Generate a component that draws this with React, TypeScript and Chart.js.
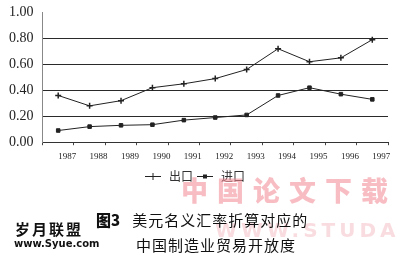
import React, { useEffect, useRef } from "react";
import { Chart, registerables } from "chart.js";

Chart.register(...registerables);

const years = ["1987", "1988", "1989", "1990", "1991", "1992", "1993", "1994", "1995", "1996", "1997"];
const exportValues = [0.36, 0.28, 0.32, 0.42, 0.45, 0.49, 0.56, 0.72, 0.62, 0.65, 0.79];
const importValues = [0.09, 0.12, 0.13, 0.135, 0.17, 0.19, 0.21, 0.36, 0.42, 0.37, 0.33];
const seriesNames = ["出口", "进口"];
const yTicks = [0, 0.2, 0.4, 0.6, 0.8, 1.0];

function legendIcon(style: "cross" | "rect"): HTMLCanvasElement {
  const c = document.createElement("canvas");
  c.width = 18;
  c.height = 10;
  const ctx = c.getContext("2d")!;
  ctx.strokeStyle = "#222";
  ctx.fillStyle = "#222";
  ctx.lineWidth = 1;
  ctx.beginPath();
  ctx.moveTo(1, 5.5);
  ctx.lineTo(17, 5.5);
  ctx.stroke();
  if (style === "cross") {
    ctx.beginPath();
    ctx.moveTo(9, 2);
    ctx.lineTo(9, 9);
    ctx.stroke();
  } else {
    ctx.fillRect(7, 3.5, 4, 4);
  }
  return c;
}

export default function App() {
  const ref = useRef<HTMLCanvasElement | null>(null);

  useEffect(() => {
    if (!ref.current) return;
    const icons = [legendIcon("cross"), legendIcon("rect")];
    const chart = new Chart(ref.current, {
      type: "line",
      data: {
        labels: years,
        datasets: [
          {
            label: seriesNames[0],
            data: exportValues,
            borderColor: "#222",
            backgroundColor: "#222",
            borderWidth: 1,
            pointStyle: "cross",
            pointRadius: 3,
            pointBorderWidth: 1.5,
            tension: 0,
          },
          {
            label: seriesNames[1],
            data: importValues,
            borderColor: "#222",
            backgroundColor: "#222",
            borderWidth: 1,
            pointStyle: "rect",
            pointRadius: 2.5,
            tension: 0,
          },
        ],
      },
      options: {
        animation: false,
        responsive: false,
        maintainAspectRatio: false,
        layout: { padding: { left: 0, right: 12, top: 2, bottom: 0 } },
        plugins: {
          tooltip: { enabled: false },
          legend: {
            position: "bottom",
            labels: {
              usePointStyle: true,
              pointStyleWidth: 20,
              color: "#333",
              font: { family: "Noto Sans CJK SC", size: 12 },
              padding: 2,
              generateLabels: (ch) => {
                const items = Chart.defaults.plugins.legend.labels.generateLabels(ch);
                items.forEach((it, i) => {
                  it.pointStyle = icons[i] as any;
                });
                return items;
              },
            },
          },
        },
        scales: {
          x: {
            type: "category",
            offset: true,
            grid: {
              offset: true,
              drawOnChartArea: false,
              drawTicks: true,
              tickLength: 3,
              color: "#444",
            },
            border: { display: true, color: "#333", width: 1 },
            ticks: {
              color: "#222",
              font: { family: "Liberation Serif", size: 9 },
              labelOffset: 9,
              padding: 6,
              maxRotation: 0,
              autoSkip: false,
            },
          },
          y: {
            min: 0,
            max: 1,
            afterBuildTicks: (axis) => {
              axis.ticks = yTicks.map((v) => ({ value: v }));
            },
            grid: {
              drawTicks: false,
              color: (ctx) => (ctx.tick && (ctx.tick.value === 0 || ctx.tick.value === 1) ? "rgba(0,0,0,0)" : "#2a2a2a"),
              lineWidth: 1,
            },
            border: { display: true, color: "#888", width: 1 },
            ticks: {
              color: "#222",
              font: { family: "Liberation Serif", size: 14 },
              padding: 9,
              callback: (v) => Number(v).toFixed(2),
            },
          },
        },
      },
    });
    return () => chart.destroy();
  }, []);

  return (
    <div style={{ position: "fixed", left: 0, top: 0, width: 400, height: 260, background: "#fff", overflow: "hidden" }}>
      <canvas ref={ref} width={400} height={197} style={{ position: "absolute", left: 0, top: -5 }} />
      <div
        style={{
          position: "absolute",
          left: 181,
          top: 174,
          fontFamily: "Noto Sans CJK SC",
          fontWeight: 900,
          fontSize: 27,
          color: "rgba(240, 135, 145, 0.55)",
          letterSpacing: 9,
          lineHeight: "32px",
          whiteSpace: "nowrap",
        }}
      >
        中国论文下载
      </div>
      <div
        style={{
          position: "absolute",
          left: 215,
          top: 218,
          fontFamily: "DejaVu Sans",
          fontWeight: 700,
          fontSize: 20,
          color: "rgba(235, 140, 150, 0.3)",
          letterSpacing: 4,
          lineHeight: "24px",
          whiteSpace: "nowrap",
        }}
      >
        WWW.STUDA.
      </div>
      <div
        style={{
          position: "absolute",
          left: 96,
          top: 210,
          fontSize: 15,
          lineHeight: "20px",
          color: "#111",
          whiteSpace: "nowrap",
          fontFamily: "Noto Sans CJK SC",
        }}
      >
        <span style={{ fontWeight: 900 }}>图3</span>
        <span style={{ marginLeft: 12, fontFamily: "Noto Sans CJK SC", letterSpacing: 1 }}>美元名义汇率折算对应的</span>
      </div>
      <div
        style={{
          position: "absolute",
          left: 136,
          top: 235,
          fontSize: 15,
          lineHeight: "20px",
          color: "#111",
          whiteSpace: "nowrap",
          fontFamily: "Noto Sans CJK SC",
          letterSpacing: 1,
        }}
      >
        中国制造业贸易开放度
      </div>
      <div
        style={{
          position: "absolute",
          left: 15,
          top: 220,
          fontSize: 15,
          lineHeight: "18px",
          color: "#111",
          fontWeight: 700,
          fontFamily: "Noto Sans CJK SC",
          letterSpacing: 2,
          whiteSpace: "nowrap",
        }}
      >
        岁月联盟
      </div>
      <div
        style={{
          position: "absolute",
          left: 14,
          top: 238,
          fontSize: 10,
          lineHeight: "12px",
          color: "#111",
          fontWeight: 700,
          fontFamily: "DejaVu Sans",
          whiteSpace: "nowrap",
        }}
      >
        www.Syue.com
      </div>
    </div>
  );
}
